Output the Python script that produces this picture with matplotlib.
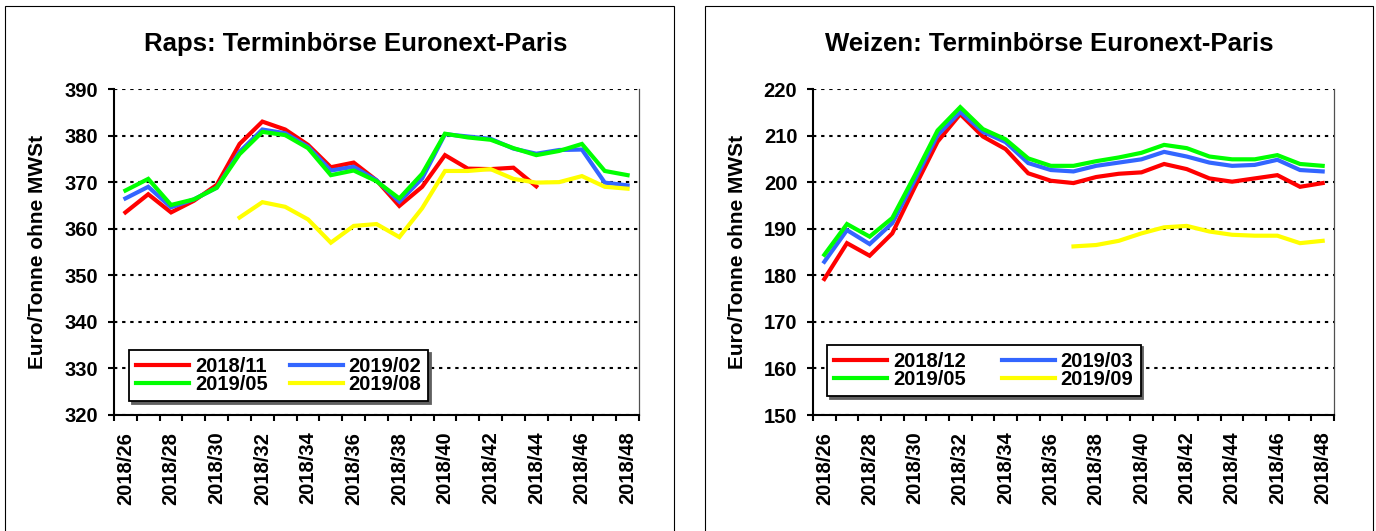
import numpy as np
import matplotlib
matplotlib.use("Agg")
from matplotlib import pyplot as plt
from matplotlib.patches import Rectangle

plt.rcParams['font.family'] = ['Liberation Sans', 'DejaVu Sans']
plt.rcParams['font.weight'] = 'bold'

# week labels (category axis)
weeks = ["2018/26", "2018/27", "2018/28", "2018/29", "2018/30", "2018/31",
         "2018/32", "2018/33", "2018/34", "2018/35", "2018/36", "2018/37",
         "2018/38", "2018/39", "2018/40", "2018/41", "2018/42", "2018/43",
         "2018/44", "2018/45", "2018/46", "2018/47", "2018/48"]

nan = np.nan

# Raps (rapeseed) contracts
raps_names = ["2018/11", "2019/02", "2019/05", "2019/08"]
raps_1811 = [363.5, 367.4, 363.5, 366.0, 369.4, 378.2, 383.0, 381.3, 378.0, 373.2,
             374.2, 370.4, 364.9, 369.0, 375.8, 372.9, 372.8, 373.1, 369.1,
             nan, nan, nan, nan]
raps_1902 = [366.5, 369.0, 364.6, 366.3, 368.8, 376.5, 381.3, 380.5, 377.6, 372.5,
             373.3, 370.4, 365.8, 370.8, 380.3, 379.8, 379.3, 377.2, 376.1,
             376.9, 377.0, 369.9, 369.3]
raps_1905 = [368.2, 370.7, 365.1, 366.3, 368.8, 376.0, 380.8, 380.1, 377.3, 371.5,
             372.5, 370.2, 366.5, 371.8, 380.4, 379.6, 379.1, 377.3, 375.8,
             376.7, 378.2, 372.4, 371.5]
raps_1908 = [nan, nan, nan, nan, nan, 362.4, 365.7, 364.7, 362.0, 357.0,
             360.6, 361.0, 358.2, 364.4, 372.4, 372.4, 372.8, 370.7, 369.9,
             370.0, 371.3, 369.0, 368.6]

# Weizen (wheat) contracts
weizen_names = ["2018/12", "2019/03", "2019/05", "2019/09"]
weizen_1812 = [179.2, 186.9, 184.2, 189.0, 199.0, 208.7, 214.6, 209.8, 207.1, 201.9,
               200.3, 199.8, 201.1, 201.8, 202.1, 203.9, 202.8, 200.8, 200.1,
               200.8, 201.5, 199.0, 199.8]
weizen_1903 = [182.9, 189.7, 186.7, 191.2, 200.5, 210.1, 215.1, 210.8, 208.6, 204.1,
               202.6, 202.3, 203.5, 204.2, 204.9, 206.5, 205.5, 204.2, 203.5,
               203.7, 204.8, 202.6, 202.3]
weizen_1905 = [184.4, 191.0, 188.3, 192.3, 201.5, 211.1, 216.1, 211.4, 209.2, 205.1,
               203.5, 203.5, 204.5, 205.3, 206.3, 208.0, 207.3, 205.5, 204.9,
               204.9, 205.8, 203.9, 203.5]
weizen_1909 = [nan, nan, nan, nan, nan, nan, nan, nan, nan, nan,
               nan, 186.2, 186.5, 187.4, 189.0, 190.3, 190.6, 189.4, 188.7,
               188.5, 188.5, 186.9, 187.4]

colors = ["#FF0000", "#3366FF", "#00FF00", "#FFFF00"]

W, H = 1376, 531
fig = plt.figure(figsize=(W / 100, H / 100), dpi=100)


def px(x0, y0, x1, y1):
    # pixel box (top-left origin) -> figure fraction rect
    return [x0 / W, (H - y1) / H, (x1 - x0) / W, (y1 - y0) / H]


def draw_panel(rect, series, names, ylim, title, title_x, ylab_x, leg_xy, colspace):
    ax = fig.add_axes(px(*rect))
    x = np.arange(len(weeks))
    lines = []
    for vals, c, n in zip(series, colors, names):
        l, = ax.plot(x, np.array(vals, dtype=float), color=c, lw=3, label=n,
                     solid_joinstyle='miter')
        lines.append(l)

    ax.set_xlim(-0.5, len(weeks) - 0.5)
    ax.set_ylim(*ylim)
    ax.set_yticks(np.arange(ylim[0], ylim[1] + 1, 10))
    ax.set_xticks(x[::2])
    ax.set_xticklabels(weeks[::2], rotation=90, fontsize=14.5, fontweight='bold')
    ax.set_xticks(np.arange(-0.5, len(weeks)), minor=True)
    ax.tick_params(axis='x', which='major', length=0, pad=12)
    ax.tick_params(axis='x', which='minor', length=4.3, width=1.5, direction='out')
    ax.tick_params(axis='y', length=4.3, width=1.5, direction='out', pad=7,
                   labelsize=14.5)
    for t in ax.get_yticklabels():
        t.set_fontweight('bold')

    ax.grid(axis='y', color='black', lw=1.5, linestyle=(0, (1.6, 2.3)))
    ax.set_axisbelow(True)
    ax.spines['top'].set_visible(False)
    ax.spines['right'].set_linewidth(0.9)
    ax.spines['right'].set_color('#505050')
    ax.spines['left'].set_linewidth(1.5)
    ax.spines['bottom'].set_linewidth(1.5)

    # row-wise legend order: 1 2 / 3 4
    order = [0, 2, 1, 3]
    leg = ax.legend([lines[i] for i in order], [names[i] for i in order], ncol=2,
                    loc='lower left', bbox_to_anchor=leg_xy, borderaxespad=0,
                    fontsize=14.5, handlelength=2.64, handletextpad=0.28,
                    columnspacing=colspace, labelspacing=-0.05, borderpad=0.35,
                    fancybox=False, framealpha=1, edgecolor='black',
                    shadow={'color': '#606060', 'alpha': 1})
    leg.get_frame().set_linewidth(1.3)
    for t in leg.get_texts():
        t.set_fontweight('bold')

    fig.text(title_x / W, (H - 50.7) / H, title, ha='center', va='baseline',
             fontsize=18.5, fontweight='bold')
    fig.text(ylab_x / W, (H - 252) / H, "Euro/Tonne ohne MWSt", rotation=90,
             ha='center', va='center', fontsize=15, fontweight='bold')
    return ax


draw_panel((114, 89, 639, 415), [raps_1811, raps_1902, raps_1905, raps_1908],
           raps_names, (320, 390), "Raps: Terminbörse Euronext-Paris",
           356, 38, (0.0286, 0.043), 1.1)
draw_panel((813, 89, 1334, 415), [weizen_1812, weizen_1903, weizen_1905, weizen_1909],
           weizen_names, (150, 220), "Weizen: Terminbörse Euronext-Paris",
           1049, 738, (0.027, 0.059), 1.8)

# panel frames
for x0, x1 in [(5, 674), (705, 1373)]:
    fig.add_artist(Rectangle((x0 / W, -0.05), (x1 - x0) / W, (H - 6) / H + 0.05,
                             transform=fig.transFigure, fill=False,
                             ec='black', lw=0.8))

fig.savefig("out.png", dpi=100, facecolor='white')
